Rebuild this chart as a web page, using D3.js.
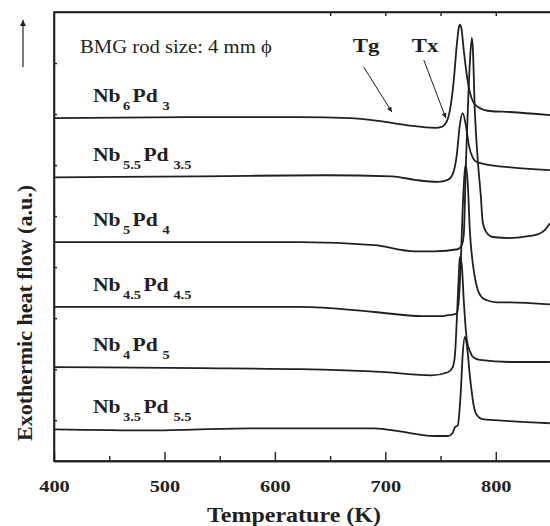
<!DOCTYPE html>
<html lang="en">
<head>
    <meta charset="UTF-8">
    <title>DSC curves of Nb-Pd BMG rods</title>
    <script src="https://d3js.org/d3.v7.min.js"></script>
    <style>
        body { margin: 0; background: #fff; }
        text { font-family: "Liberation Serif", "Times New Roman", serif; fill: #231f20; }
    </style>
</head>
<body>
    <svg width="550" height="526"></svg>
    <script type="text/javascript">
        // Temperature (K), heat flow (a.u., offset per curve)
        var nb6pd3 = [[400,5.92],[532,5.94],[623,5.94],[668,5.92],[695,5.86],[720,5.78],[745,5.73],[751,5.75],
            [755.7,5.86],[759.3,6.18],[762,6.67],[764.7,7.35],[766.5,7.69],[767.4,7.75],[768.8,7.69],[771,7.25],
            [773.8,6.76],[776.5,6.43],[780,6.22],[783.7,6.14],[794.6,6.06],[812.7,6.04],[849,5.98]];
        var nb55pd35 = [[400,4.76],[532,4.78],[645,4.80],[706,4.78],[726.7,4.71],[747.5,4.67],[756.6,4.71],
            [761,4.82],[764.7,5.20],[767.4,5.78],[770,6.02],[772.9,5.78],[775.6,5.39],[779.2,5.14],[782.8,5.06],
            [790,5.02],[810.9,4.96],[849,4.90]];
        var nb5pd4 = [[400,3.49],[532,3.49],[623,3.49],[690,3.43],[726.7,3.31],[745,3.31],[765.6,3.35],
            [769.2,3.43],[771,3.63],[772.9,5.0],[774.7,6.08],[776.5,7.0],[778.3,7.49],[779.2,7.3],[781,6.08],
            [783.7,5.10],[786.4,4.41],[788.2,3.88],[791.9,3.67],[797.3,3.59],[812.7,3.57],[830.8,3.61],
            [840,3.66],[845,3.74],[849,3.86]];
        var nb45pd45 = [[400,2.22],[532,2.22],[623,2.22],[690,2.12],[733,2.04],[751,2.04],[756.6,2.06],
            [763,2.08],[764.7,2.10],[766.5,2.35],[768.4,3.14],[770,4.12],[772,4.90],[772.9,5.0],[774.7,4.61],
            [776.5,3.73],[780,2.94],[783.7,2.55],[787.3,2.41],[791.9,2.35],[801,2.31],[812.7,2.31],[849,2.27]];
        var nb4pd5 = [[400,1.04],[532,1.02],[623,1.00],[700,0.94],[742,0.88],[756.6,0.94],[761,1.04],
            [763,1.27],[764.7,1.96],[766.5,2.84],[767.4,3.20],[769.2,3.04],[771,2.35],[773.8,1.57],[777,1.33],
            [779.2,1.24],[785.5,1.18],[812.7,1.14],[849,1.14]];
        var nb35pd55 = [[400,-0.18],[487,-0.20],[577,-0.16],[690,-0.16],[713,-0.22],[733,-0.29],[745,-0.31],
            [756.6,-0.31],[761,-0.25],[763,-0.14],[765.6,-0.10],[768.4,0.59],[770,1.27],[772,1.63],[773.8,1.47],
            [776.5,0.88],[780,0.29],[782.8,0.10],[788,0.02],[799,0.0],[812.7,-0.02],[849,-0.06]];

        var curves = [nb6pd3, nb55pd35, nb5pd4, nb45pd45, nb4pd5, nb35pd55];
        // [Nb subscript, Pd subscript]
        var compositions = [["6","3"],["5.5","3.5"],["5","4"],["4.5","4.5"],["4","5"],["3.5","5.5"]];

        var xMajorTicks = [400, 500, 600, 700, 800];
        var xMinorTicks = [450, 550, 650, 750, 850];
        var xTopTicks = [650, 700, 750, 800];
        var yTicks = [0, 1, 2, 3, 4, 5, 6, 7];

        var annotations = [
            {text: "Tg", at: [670.6, 7.22], from: [680.5, 6.92], to: [705.9, 6.04]},
            {text: "Tx", at: [724, 7.22], from: [734.8, 7.06], to: [754.8, 5.92]}
        ];

        var margin = {top: 12, right: -1, bottom: 65, left: 54},
            width = 550 - margin.left - margin.right,
            height = 526 - margin.top - margin.bottom;

        var x = d3.scaleLinear().domain([400, 850]).range([0, width]);
        var y = d3.scaleLinear().domain([-0.8, 8]).range([height, 0]);

        var svg = d3.select("svg").append("g")
            .attr("transform", "translate(" + margin.left + "," + margin.top + ")");

        // frame
        svg.append("rect")
            .attr("width", width).attr("height", height)
            .attr("fill", "none").attr("stroke", "#231f20").attr("stroke-width", 1.6);

        // bottom axis, ticks pointing inward
        var xAxis = svg.append("g")
            .attr("transform", "translate(0," + height + ")")
            .call(d3.axisBottom(x).tickValues(xMajorTicks).tickSize(-9).tickSizeOuter(0)
                .tickPadding(19).tickFormat(d3.format("d")));
        xAxis.selectAll("text")
            .attr("font-size", "17px").attr("font-weight", "bold")
            .attr("transform", "scale(1.2,1)");
        svg.append("g")
            .attr("transform", "translate(0," + height + ")")
            .call(d3.axisBottom(x).tickValues(xMinorTicks).tickSize(-5).tickSizeOuter(0).tickFormat(""));
        svg.append("g")
            .call(d3.axisTop(x).tickValues(xTopTicks).tickSize(-4).tickSizeOuter(0).tickFormat(""));
        svg.append("g")
            .call(d3.axisLeft(y).tickValues(yTicks).tickSize(-3).tickSizeOuter(0).tickFormat(""));
        svg.selectAll(".domain").attr("stroke", "#231f20").attr("stroke-width", 1.6);
        svg.selectAll(".tick line").attr("stroke", "#231f20").attr("stroke-width", 1.4);

        // curves
        var line = d3.line()
            .x(function(d) { return x(d[0]); })
            .y(function(d) { return y(d[1]); })
            .curve(d3.curveMonotoneX);

        svg.selectAll(".curve")
            .data(curves)
            .enter().append("path")
            .attr("class", "curve")
            .attr("d", line)
            .attr("fill", "none")
            .attr("stroke", "#231f20")
            .attr("stroke-width", 1.8);

        // composition labels
        curves.forEach(function(c, i) {
            var t = svg.append("text")
                .attr("transform", "translate(39," + (y(c[0][1]) - 16) + ") scale(1.2,1)")
                .attr("font-weight", "bold").attr("font-size", "18px");
            t.append("tspan").text("Nb");
            t.append("tspan").attr("dx", 2).attr("dy", 8).attr("font-size", "12px").text(compositions[i][0]);
            t.append("tspan").attr("dx", 2).attr("dy", -8).text("Pd");
            t.append("tspan").attr("dx", 4).attr("dy", 8).attr("font-size", "12px").text(compositions[i][1]);
        });

        // note
        svg.append("text")
            .attr("transform", "translate(26,41) scale(1.15,1)")
            .attr("font-size", "18px")
            .text("BMG rod size: 4 mm \u03d5");

        // arrow heads
        var defs = d3.select("svg").append("defs");
        defs.append("marker")
            .attr("id", "head").attr("viewBox", "0 0 10 10")
            .attr("refX", 10).attr("refY", 5)
            .attr("markerWidth", 7).attr("markerHeight", 5).attr("markerUnits", "userSpaceOnUse")
            .attr("orient", "auto")
            .append("path").attr("d", "M0,0L10,5L0,10z").attr("fill", "#231f20");
        defs.append("marker")
            .attr("id", "bighead").attr("viewBox", "0 0 10 10")
            .attr("refX", 10).attr("refY", 5)
            .attr("markerWidth", 12).attr("markerHeight", 6).attr("markerUnits", "userSpaceOnUse")
            .attr("orient", "auto")
            .append("path").attr("d", "M0,0L10,5L0,10z").attr("fill", "#231f20");

        annotations.forEach(function(a) {
            svg.append("text")
                .attr("transform", "translate(" + x(a.at[0]) + "," + y(a.at[1]) + ") scale(1.2,1)")
                .attr("font-weight", "bold").attr("font-size", "19px")
                .text(a.text);
            svg.append("line")
                .attr("x1", x(a.from[0])).attr("y1", y(a.from[1]))
                .attr("x2", x(a.to[0])).attr("y2", y(a.to[1]))
                .attr("stroke", "#231f20").attr("stroke-width", 1)
                .attr("marker-end", "url(#head)");
        });

        // axis titles
        svg.append("text")
            .attr("transform", "translate(240," + (height + 61) + ") scale(1.2,1)")
            .attr("text-anchor", "middle")
            .attr("font-weight", "bold").attr("font-size", "20px")
            .text("Temperature (K)");

        svg.append("text")
            .attr("transform", "translate(-22,301) rotate(-90)")
            .attr("text-anchor", "middle")
            .attr("font-weight", "bold").attr("font-size", "22px")
            .text("Exothermic heat flow (a.u.)");

        svg.append("line")
            .attr("x1", -31).attr("y1", 55)
            .attr("x2", -31).attr("y2", 8)
            .attr("stroke", "#231f20").attr("stroke-width", 1.2)
            .attr("marker-end", "url(#bighead)");
    </script>
</body>
</html>
